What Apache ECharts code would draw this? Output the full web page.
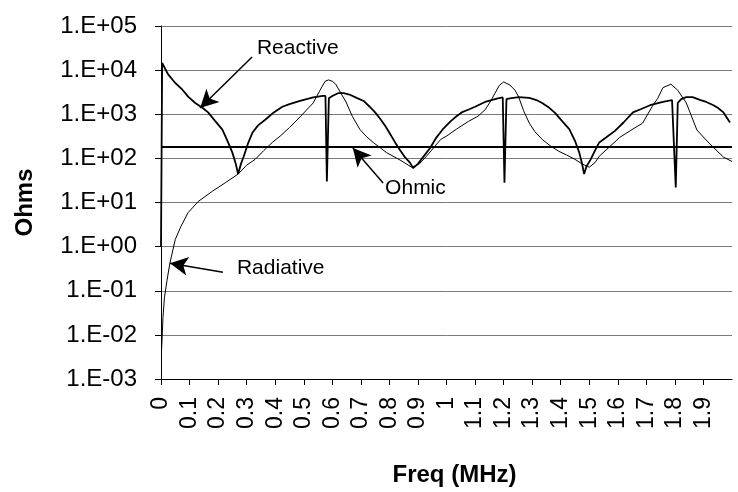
<!DOCTYPE html>
<html>
<head>
<meta charset="utf-8">
<script src="https://cdn.jsdelivr.net/npm/echarts@6/dist/echarts.min.js"></script>
<style>html,body{margin:0;padding:0;background:#fff}#c{width:738px;height:492px}</style>
</head>
<body>
<div id="c"></div>
<script>
const reactiveFreq = [0,0.004,0.025,0.05,0.075,0.095,0.12,0.145,0.165,0.19,0.215,0.235,0.25,0.262,0.27,0.28,0.29,0.305,0.32,0.34,0.366,0.395,0.425,0.45,0.487,0.533,0.567,0.576,0.581,0.588,0.6,0.62,0.64,0.66,0.685,0.71,0.73,0.75,0.767,0.785,0.8,0.82,0.837,0.855,0.872,0.883,0.9,0.918,0.942,0.965,0.99,1.015,1.035,1.053,1.08,1.1,1.135,1.18,1.197,1.203,1.21,1.222,1.253,1.29,1.315,1.335,1.36,1.38,1.405,1.43,1.45,1.465,1.475,1.482,1.49,1.505,1.52,1.535,1.56,1.59,1.62,1.653,1.68,1.713,1.758,1.79,1.797,1.803,1.81,1.822,1.84,1.862,1.89,1.91,1.935,1.95,1.97,1.993];
const reactiveOhms = [1,14500,8000,5100,3600,2500,1800,1400,1100,700,450,230,135,75,44,75,112,220,380,560,760,1100,1480,1700,2000,2400,2600,2600,30,2300,2600,3000,3000,2800,2350,2000,1500,1100,800,550,380,230,155,105,80,60,75,107,170,300,480,700,900,1100,1300,1480,1900,2300,2400,28,2200,2300,2450,2350,2100,1800,1400,1070,700,460,250,135,75,44,65,95,150,230,300,420,650,1100,1300,1600,1900,2100,2150,22,1800,2200,2450,2450,2100,1900,1600,1400,1100,650];

const radiativeFreq = [0.002,0.007,0.012,0.021,0.031,0.05,0.07,0.095,0.13,0.18,0.225,0.27,0.3,0.33,0.36,0.39,0.42,0.45,0.487,0.533,0.557,0.575,0.587,0.6,0.612,0.63,0.648,0.67,0.697,0.72,0.743,0.77,0.79,0.837,0.878,0.905,0.93,0.96,0.98,1.0,1.035,1.077,1.11,1.135,1.155,1.17,1.185,1.2,1.222,1.24,1.253,1.27,1.29,1.31,1.335,1.36,1.393,1.42,1.45,1.475,1.5,1.52,1.535,1.57,1.607,1.645,1.687,1.72,1.74,1.758,1.786,1.81,1.84,1.877,1.92,1.97,2.0];
const radiativeOhms = [0.0045,0.025,0.07,0.17,0.42,1.45,2.9,5.9,10.5,18,28,44,70,95,150,230,330,500,870,1800,3500,5600,6000,5600,4800,3000,1900,900,450,310,230,170,135,92,63,75,112,190,270,320,460,690,900,1260,2000,3000,4500,5400,4600,3500,2450,1200,630,400,270,200,145,120,95,75,63,80,112,180,300,430,630,1480,2300,4000,4800,3500,1800,440,220,107,85];

const ohmicFreq = [0, 2.0];
const ohmicOhms = [180, 180];

const yTickLabels = ['1.E-03','1.E-02','1.E-01','1.E+00','1.E+01','1.E+02','1.E+03','1.E+04','1.E+05'];
const xTickLabels = ['0','0.1','0.2','0.3','0.4','0.5','0.6','0.7','0.8','0.9','1','1.1','1.2','1.3','1.4','1.5','1.6','1.7','1.8','1.9'];

const FONT = '"Liberation Sans", Arial, sans-serif';
const pair = (fs, vs) => fs.map((f, i) => [f, vs[i]]);

const chart = echarts.init(document.getElementById('c'), null, {renderer: 'canvas'});
const labelPt = (coord, text) => ({
  coord: coord, symbol: 'circle', symbolSize: 0,
  label: {show: true, formatter: text, position: 'right', distance: 0, color: '#000', fontSize: 21, fontFamily: FONT}
});
const arrow = (from, to) => [{coord: from, symbol: 'none'}, {coord: to, symbol: 'arrow'}];

chart.setOption({
  animation: false,
  backgroundColor: '#fff',
  grid: {left: 161, right: 6, top: 26, bottom: 113, containLabel: false},
  xAxis: {
    type: 'value', min: 0, max: 2, interval: 0.1,
    name: 'Freq (MHz)', nameLocation: 'middle', nameGap: 84,
    nameTextStyle: {fontFamily: FONT, fontSize: 24, fontWeight: 'bold', color: '#000', padding: [0, 0, 0, 16]},
    axisLine: {show: true, lineStyle: {color: '#000', width: 1}},
    axisTick: {show: true, inside: false, length: 6, lineStyle: {color: '#000'}},
    splitLine: {show: false},
    axisLabel: {
      rotate: 90, margin: 18, fontFamily: FONT, fontSize: 23, color: '#000',
      showMaxLabel: false,
      formatter: v => { const i = Math.round(v * 10); return i < xTickLabels.length ? xTickLabels[i] : ''; }
    }
  },
  yAxis: {
    type: 'log', logBase: 10, min: 0.001, max: 100000, interval: 1,
    name: 'Ohms', nameLocation: 'middle', nameGap: 124,
    nameTextStyle: {fontFamily: FONT, fontSize: 24, fontWeight: 'bold', color: '#000'},
    axisLine: {show: true, lineStyle: {color: '#000', width: 1}},
    axisTick: {show: true, inside: false, length: 6, lineStyle: {color: '#000'}},
    splitLine: {show: true, lineStyle: {color: '#7a7a7a', width: 1}},
    axisLabel: {
      margin: 24, fontFamily: FONT, fontSize: 24, color: '#000',
      formatter: v => { const e = Math.round(Math.log10(v)); return yTickLabels[e + 3] || ''; }
    }
  },
  series: [
    {
      name: 'Ohmic', type: 'line', data: pair(ohmicFreq, ohmicOhms), showSymbol: false, symbol: 'none',
      lineStyle: {color: '#000', width: 2}, z: 3,
      markLine: {
        silent: true, symbolSize: [14, 18], animation: false,
        lineStyle: {color: '#000', width: 1.5, type: 'solid'},
        label: {show: false},
        data: [
          arrow([0.319, 19800], [0.137, 1380]),
          arrow([0.778, 27.5], [0.672, 171]),
          arrow([0.217, 0.264], [0.0315, 0.42])
        ]
      },
      markPoint: {
        silent: true, animation: false,
        data: [
          labelPt([0.336, 31600], 'Reactive'),
          labelPt([0.785, 21], 'Ohmic'),
          labelPt([0.266, 0.32], 'Radiative')
        ]
      }
    },
    {
      name: 'Radiative', type: 'line', data: pair(radiativeFreq, radiativeOhms), showSymbol: false, symbol: 'none',
      lineStyle: {color: '#000', width: 1}, z: 4
    },
    {
      name: 'Reactive', type: 'line', data: pair(reactiveFreq, reactiveOhms), showSymbol: false, symbol: 'none',
      lineStyle: {color: '#000', width: 1.8}, z: 5
    }
  ]
});
</script>
</body>
</html>
